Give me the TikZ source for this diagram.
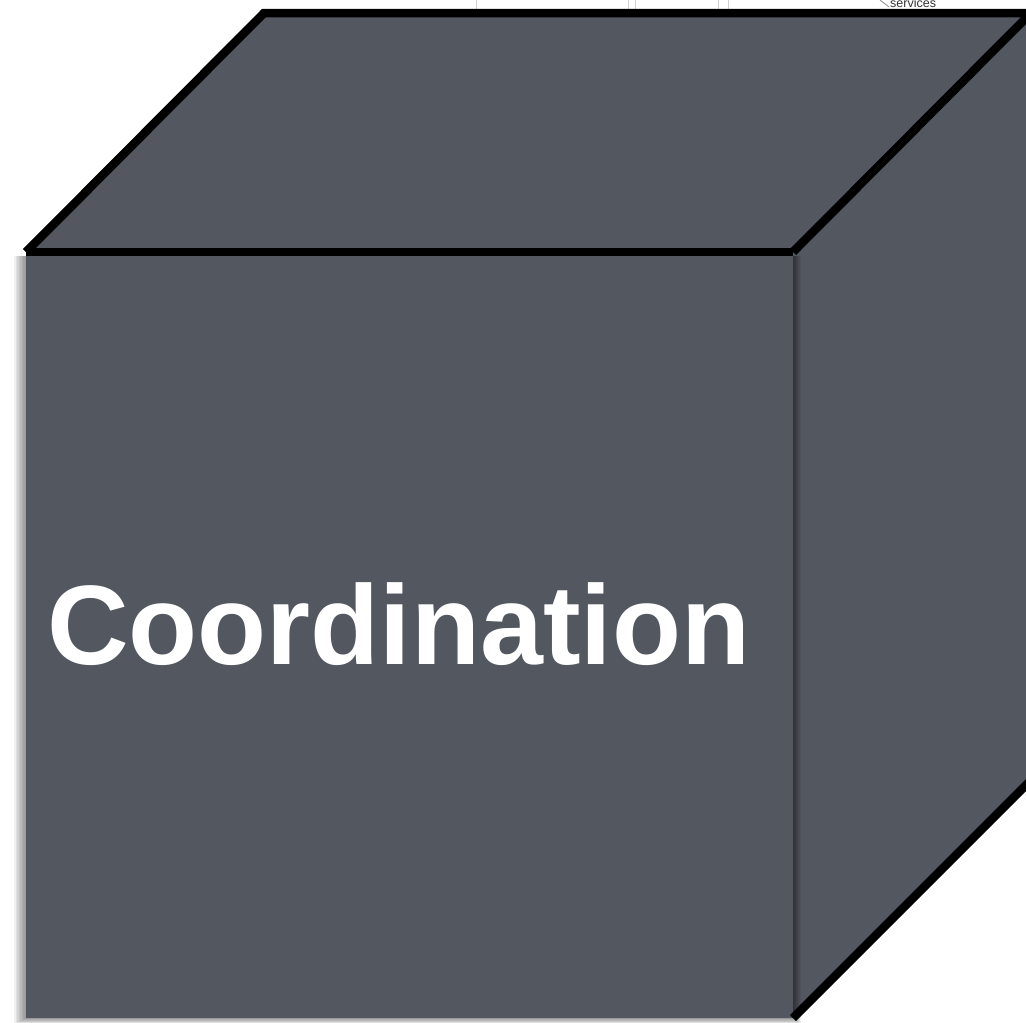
\documentclass[tikz,border=0pt]{standalone}
\usepackage{fontspec}
\setmainfont{Liberation Sans}
\begin{document}
\begin{tikzpicture}[x=1pt,y=-1pt,line join=miter]
\definecolor{cubefill}{RGB}{83,87,96}
\tikzset{
  edge/.style={line width=8.5pt,black},
  face/.style={fill=cubefill},
  gridline/.style={draw=black!18,line width=1pt},
  shadowpiece/.style={fill=black,opacity=0.06}
}
\useasboundingbox (0,0) rectangle (1026,1023);
\clip (0,0) rectangle (1026,1023);
\fill[white] (0,0) rectangle (1026,1023);
% cropped remains of a table at the top
\draw[gridline] (476,0) -- (476,9);
\draw[gridline] (628,0) -- (628,9);
\draw[gridline] (635,0) -- (635,9);
\draw[gridline] (718,0) -- (718,9);
\draw[gridline] (728,0) -- (728,9);
\draw[draw=black!45,line width=0.8pt] (880,0) -- (889,7);
\node[anchor=base west,inner sep=0pt,text=black!80,font=\fontsize{12.5}{12.5}\selectfont] (services) at (890,7.5) {services};
% cube corners
\coordinate (ftl) at (26,252);
\coordinate (ftr) at (793,252);
\coordinate (fbr) at (793,1018);
\coordinate (fbl) at (26,1018);
\coordinate (btl) at (264,13);
\coordinate (btr) at (1031,13);
\coordinate (bbr) at (1031,780);
% top and right faces
\fill[face] (ftl) -- (btl) -- (btr) -- (ftr) -- cycle;
\fill[face] (ftr) -- (btr) -- (bbr) -- (fbr) -- cycle;
% soft shadow of the front face
\foreach \i in {1,...,8}
  \fill[shadowpiece] (26-1.5*\i,256) rectangle (793+\i,1018+0.7*\i);
% front face
\fill[face] (ftl) rectangle (fbr);
% edges
\draw[edge] (ftl) -- (btl) -- (btr);
\draw[edge] (ftl) -- (ftr);
\draw[edge] (ftr) -- (btr);
\draw[edge] (fbr) -- (bbr);
% label
\node[anchor=base west,inner sep=0pt,text=white,font=\bfseries\fontsize{113}{113}\selectfont] (label) at (47,664) {Coordination};
\end{tikzpicture}
\end{document}
